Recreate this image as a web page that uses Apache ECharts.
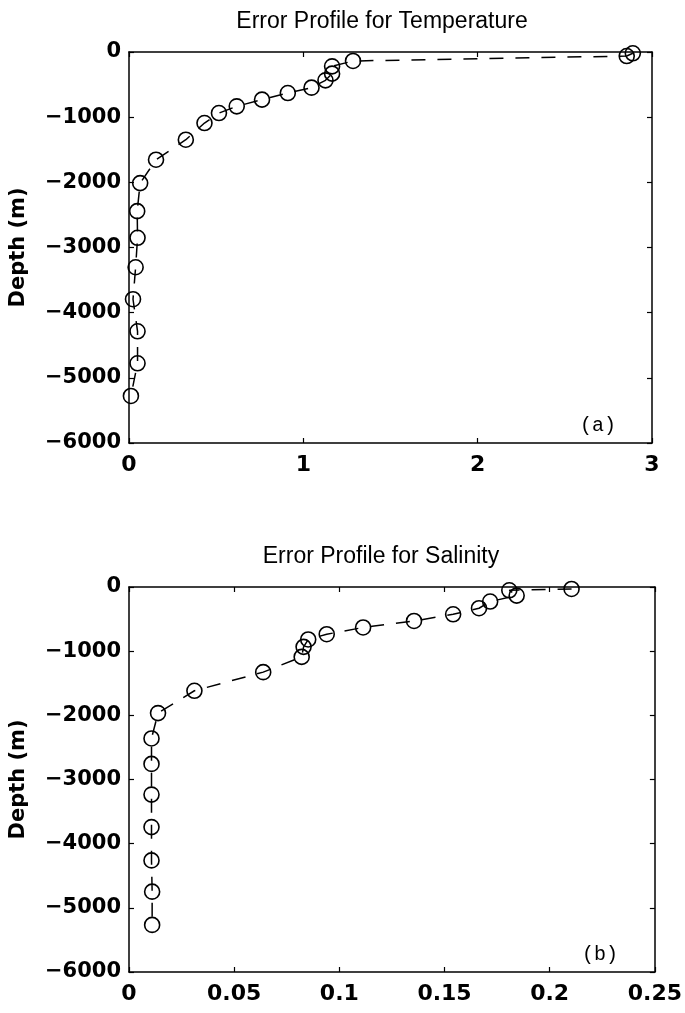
<!DOCTYPE html>
<html>
<head>
<meta charset="utf-8">
<script src="https://cdn.jsdelivr.net/npm/echarts@6/dist/echarts.min.js"></script>
<style>
html,body{margin:0;padding:0;background:#fff;}
#chart{width:685px;height:1013px;}
</style>
</head>
<body>
<div id="chart"></div>
<script>
// ---- data ----
var tempDepth = [-20, -62, -138, -220, -332, -435, -547, -630, -731, -834, -937, -1090, -1346, -1653, -2012, -2442, -2851, -3303, -3794, -4286, -4777, -5278];
var tempError = [2.89, 2.855, 1.285, 1.165, 1.165, 1.127, 1.047, 0.911, 0.763, 0.618, 0.516, 0.433, 0.326, 0.155, 0.064, 0.047, 0.049, 0.038, 0.023, 0.049, 0.049, 0.011];
var salDepth = [-31, -51, -134, -227, -331, -425, -529, -631, -736, -818, -933, -1089, -1327, -1617, -1965, -2360, -2757, -3235, -3742, -4261, -4748, -5266];
var salError = [0.2104, 0.1808, 0.1843, 0.1717, 0.1664, 0.1541, 0.1355, 0.1113, 0.094, 0.0852, 0.0830, 0.0821, 0.0638, 0.0311, 0.0138, 0.0107, 0.0107, 0.0107, 0.0107, 0.0107, 0.011, 0.011];
var depthTicks = {min: -6000, max: 0, interval: 1000};
var tempTicks = {min: 0, max: 3, interval: 1};
var salTicks = {min: 0, max: 0.25, interval: 0.05};
var titles = ['Error Profile for Temperature', 'Error Profile for Salinity'];
var panelLabels = ['(a)', '(b)'];
var yName = 'Depth (m)';

function pairs(xs, ys) { return xs.map(function (x, i) { return [x, ys[i]]; }); }

var FONT = '"DejaVu Sans", sans-serif';
var TFONT = '"Liberation Sans", Arial, sans-serif';
var lineW = 1.5;

function xAx(gi, t, pos, labels) {
  return {
    type: 'value', gridIndex: gi, position: pos, min: t.min, max: t.max, interval: t.interval,
    axisLine: {show: true, onZero: false, lineStyle: {color: '#000', width: lineW}},
    axisTick: {show: true, inside: true, length: 5, lineStyle: {color: '#000', width: 1.2}},
    axisLabel: {show: labels, color: '#000', fontSize: 22, fontWeight: 'bold', fontFamily: FONT, margin: 11,
      formatter: function (v) { return String(+v.toFixed(4)); }},
    splitLine: {show: false}
  };
}
function yAx(gi, pos, labels) {
  return {
    type: 'value', gridIndex: gi, position: pos, min: depthTicks.min, max: depthTicks.max, interval: depthTicks.interval,
    name: labels ? yName : '', nameLocation: 'middle', nameGap: 100, nameRotate: 90,
    nameTextStyle: {color: '#000', fontSize: 21, fontWeight: 'bold', fontFamily: FONT},
    axisLine: {show: true, onZero: false, lineStyle: {color: '#000', width: lineW}},
    axisTick: {show: true, inside: true, length: 5, lineStyle: {color: '#000', width: 1.2}},
    axisLabel: {show: labels, color: '#000', fontSize: 21, fontWeight: 'bold', fontFamily: FONT, margin: 8,
      formatter: function (v) { return String(v).replace('-', '\u2212'); }},
    splitLine: {show: false}
  };
}
function ser(xi, yi, data) {
  return {
    type: 'line', xAxisIndex: xi, yAxisIndex: yi, data: data, clip: false,
    symbol: 'circle', symbolSize: 15,
    itemStyle: {color: 'rgba(0,0,0,0)', borderColor: '#000', borderWidth: 1.6},
    lineStyle: {color: '#000', width: 1.5, type: [14, 12]},
    emphasis: {disabled: true}, animation: false
  };
}

var chart = echarts.init(document.getElementById('chart'));
chart.setOption({
  backgroundColor: '#fff',
  animation: false,
  title: [
    {text: titles[0], left: 377, top: 5, textAlign: 'center', textStyle: {color: '#000', fontSize: 23, fontWeight: 'normal', fontFamily: TFONT}},
    {text: titles[1], left: 376, top: 540, textAlign: 'center', textStyle: {color: '#000', fontSize: 23, fontWeight: 'normal', fontFamily: TFONT}}
  ],
  grid: [
    {left: 126, top: 52, width: 526, height: 391},
    {left: 126, top: 587, width: 529, height: 385}
  ],
  xAxis: [
    xAx(0, tempTicks, 'bottom', true), xAx(0, tempTicks, 'top', false),
    xAx(1, salTicks, 'bottom', true), xAx(1, salTicks, 'top', false)
  ],
  yAxis: [
    yAx(0, 'left', true), yAx(0, 'right', false),
    yAx(1, 'left', true), yAx(1, 'right', false)
  ],
  graphic: [
    {type: 'text', x: 598, y: 426, style: {text: panelLabels[0], fill: '#000', font: '20px "Liberation Mono", monospace', textAlign: 'center', textVerticalAlign: 'middle'}},
    {type: 'text', x: 600, y: 955, style: {text: panelLabels[1], fill: '#000', font: '20px "Liberation Mono", monospace', textAlign: 'center', textVerticalAlign: 'middle'}}
  ],
  series: [
    ser(0, 0, pairs(tempError, tempDepth)),
    ser(2, 2, pairs(salError, salDepth))
  ]
});
</script>
</body>
</html>
